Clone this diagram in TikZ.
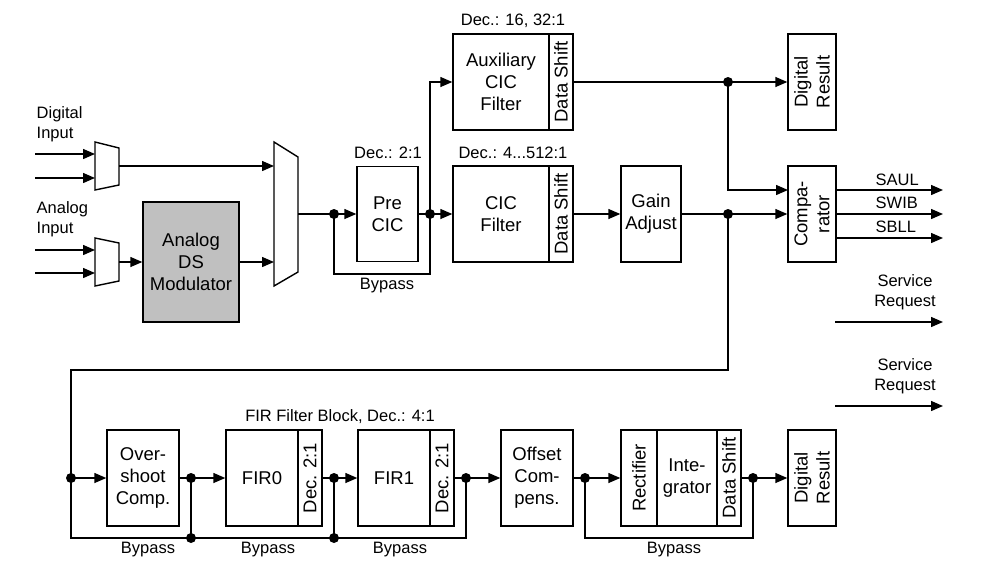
\documentclass[tikz,border=0pt]{standalone}
\usepackage{fontspec}
\setmainfont{Liberation Sans}
\usetikzlibrary{arrows.meta}
\definecolor{modgray}{RGB}{192,192,192}
\begin{document}
\begin{tikzpicture}[x=1pt,y=-1pt, line width=1.4pt,
  >={Triangle[length=12pt,width=10pt]},
  box/.style={draw, inner sep=0pt},
  btxt/.style={inner sep=0pt, align=center, font=\fontsize{18.5}{22}\selectfont},
  rtxt/.style={btxt, rotate=90},
  lbl/.style={inner sep=0pt, align=center, font=\fontsize{16.5}{20}\selectfont},
  jdot/.style={circle, fill, inner sep=0pt, minimum size=10pt},
]
\useasboundingbox (0,0) rectangle (996,565);

% ---------- input multiplexers ----------
\draw (95,142) -- (119,148) -- (119,185) -- (95,190) -- cycle;
\draw (95,238) -- (119,243) -- (119,281) -- (95,286) -- cycle;
\draw (274,142) -- (298,157) -- (298,272) -- (274,286) -- cycle;
\coordinate (i1) at (35,154); \coordinate (m1a) at (95,154);
\coordinate (i2) at (35,178); \coordinate (m1b) at (95,178);
\coordinate (i3) at (35,250); \coordinate (m2a) at (95,250);
\coordinate (i4) at (35,273); \coordinate (m2b) at (95,273);
\coordinate (m1o) at (119,166); \coordinate (m2o) at (119,262);
\coordinate (m3a) at (274,166); \coordinate (m3b) at (274,262);
\coordinate (m3o) at (298,214);

\node[lbl, align=left, anchor=west] (dilbl) at (36,124) {Digital\\Input};
\node[lbl, align=left, anchor=west] (anlbl) at (36,219) {Analog\\Input};

\node[box, fill=modgray, minimum width=96pt, minimum height=120pt] (mod) at (191,262) {};
\node[btxt] at (mod) {Analog\\DS\\Modulator};

% ---------- upper blocks ----------
\node[box, minimum width=61pt, minimum height=95pt] (pre) at (387.5,214) {};
\node[btxt] at (pre) {Pre\\CIC};
\node[lbl] (declbl1) at (388,153) {Dec.: 2:1};

\node[box, minimum width=96pt, minimum height=96pt] (auxm) at (501,82) {};
\node[btxt] at (auxm) {Auxiliary\\CIC\\Filter};
\node[box, minimum width=24pt, minimum height=96pt] (auxs) at (561,82) {};
\node[rtxt] at (auxs) {Data Shift};
\node[lbl] (declbl2) at (513,21) {Dec.: 16, 32:1};

\node[box, minimum width=96pt, minimum height=96pt] (cicm) at (501,214) {};
\node[btxt] at (cicm) {CIC\\Filter};
\node[box, minimum width=24pt, minimum height=96pt] (cics) at (561,214) {};
\node[rtxt] at (cics) {Data Shift};
\node[lbl] (declbl3) at (513,153) {Dec.: 4...512:1};

\node[box, minimum width=60pt, minimum height=96pt] (gain) at (651,214) {};
\node[btxt] at (gain) {Gain\\Adjust};

\node[box, minimum width=48pt, minimum height=96pt] (dr1) at (812,82) {};
\node[rtxt] at (dr1) {Digital\\Result};
\node[box, minimum width=48pt, minimum height=96pt] (comp) at (812,214) {};
\node[rtxt] at (comp) {Compa-\\rator};

% ---------- lower blocks ----------
\node[box, minimum width=72pt, minimum height=96pt] (os) at (143,478) {};
\node[btxt] at (os) {Over-\\shoot\\Comp.};
\node[box, minimum width=72pt, minimum height=96pt] (f0m) at (262,478) {};
\node[btxt] at (f0m) {FIR0};
\node[box, minimum width=24pt, minimum height=96pt] (f0s) at (310,478) {};
\node[rtxt] at (f0s) {Dec. 2:1};
\node[box, minimum width=72pt, minimum height=96pt] (f1m) at (394,478) {};
\node[btxt] at (f1m) {FIR1};
\node[box, minimum width=24pt, minimum height=96pt] (f1s) at (442,478) {};
\node[rtxt] at (f1s) {Dec. 2:1};
\node[lbl] (firlbl) at (340,417) {FIR Filter Block, Dec.: 4:1};

\node[box, minimum width=72pt, minimum height=96pt] (off) at (537,478) {};
\node[btxt] at (off) {Offset\\Com-\\pens.};
\node[box, minimum width=36pt, minimum height=96pt] (rect) at (639,478) {};
\node[rtxt] at (rect) {Rectifier};
\node[box, minimum width=60pt, minimum height=96pt] (integ) at (687,478) {};
\node[btxt] at (integ) {Inte-\\grator};
\node[box, minimum width=24pt, minimum height=96pt] (ds) at (729,478) {};
\node[rtxt] at (ds) {Data Shift};
\node[box, minimum width=48pt, minimum height=96pt] (dr2) at (812,478) {};
\node[rtxt] at (dr2) {Digital\\Result};

% ---------- junctions ----------
\coordinate (d1) at (334,214);
\coordinate (d2) at (430,214);
\coordinate (d3) at (728,82);
\coordinate (d4) at (728,214);
\coordinate (d5) at (71,478);
\coordinate (d6) at (191,478);
\coordinate (d7) at (334,478);
\coordinate (d8) at (466,478);
\coordinate (d9) at (191,538);
\coordinate (d10) at (334,538);
\coordinate (d11) at (585,478);
\coordinate (d12) at (753,478);

% ---------- connectors: inputs ----------
\draw[->] (i1) -- (m1a);
\draw[->] (i2) -- (m1b);
\draw[->] (i3) -- (m2a);
\draw[->] (i4) -- (m2b);
\draw[->] (m1o) -- (m3a);
\draw[->] (m2o) -- (mod.west);
\draw[->] (mod.east) -- (m3b);

% ---------- connectors: upper path ----------
\draw (m3o) -- (d1);
\draw[->] (d1) -- (pre.west);
\coordinate (b1) at (334,274);
\draw (d1) -- (b1) -| (d2);
\node[lbl] (bp1) at (387,286) {Bypass};
\draw (pre.east) -- (d2);
\draw[->] (d2) -- (cicm.west);
\draw[->] (d2) |- (auxm.west);
\draw[->] (auxs.east) -- (dr1.west);
\coordinate (c1) at (788,190);
\draw[->] (d3) |- (c1);
\draw[->] (cics.east) -- (gain.west);
\draw[->] (gain.east) -- (comp.west);

% comparator outputs
\coordinate (s1) at (943,190);
\coordinate (s2) at (943,214);
\coordinate (s3) at (943,238);
\draw[->] (comp.east |- s1) -- (s1);
\draw[->] (comp.east |- s2) -- (s2);
\draw[->] (comp.east |- s3) -- (s3);
\node[lbl, anchor=west] (saul) at (875,180) {SAUL};
\node[lbl, anchor=west] (swib) at (875,203) {SWIB};
\node[lbl, anchor=west] (sbll) at (875,227) {SBLL};

% service requests
\coordinate (sr1a) at (835,322); \coordinate (sr1b) at (943,322);
\coordinate (sr2a) at (835,406); \coordinate (sr2b) at (943,406);
\draw[->] (sr1a) -- (sr1b);
\draw[->] (sr2a) -- (sr2b);
\node[lbl] (srl1) at (905,292) {Service\\Request};
\node[lbl] (srl2) at (905,376) {Service\\Request};

% ---------- loop to lower path ----------
\coordinate (l1) at (728,370);
\coordinate (l2) at (71,370);
\draw (d4) -- (l1) -- (l2) -- (d5);
\draw[->] (d5) -- (os.west);
\coordinate (l3) at (71,538);
\draw (d5) -- (l3) -| (d8);
\draw (d6) -- (d9);
\draw (d7) -- (d10);
\draw (os.east) -- (d6);
\draw[->] (d6) -- (f0m.west);
\draw (f0s.east) -- (d7);
\draw[->] (d7) -- (f1m.west);
\draw (f1s.east) -- (d8);
\draw[->] (d8) -- (off.west);
\draw (off.east) -- (d11);
\draw[->] (d11) -- (rect.west);
\draw (ds.east) -- (d12);
\draw[->] (d12) -- (dr2.west);
\coordinate (l4) at (585,538);
\draw (d11) -- (l4) -| (d12);

\node[lbl] (bp2) at (148,550) {Bypass};
\node[lbl] (bp3) at (268,550) {Bypass};
\node[lbl] (bp4) at (400,550) {Bypass};
\node[lbl] (bp5) at (674,550) {Bypass};

% dots
\foreach \d in {d1,d2,d3,d4,d5,d6,d7,d8,d9,d10,d11,d12}
  \node[jdot] at (\d) {};
\end{tikzpicture}
\end{document}
